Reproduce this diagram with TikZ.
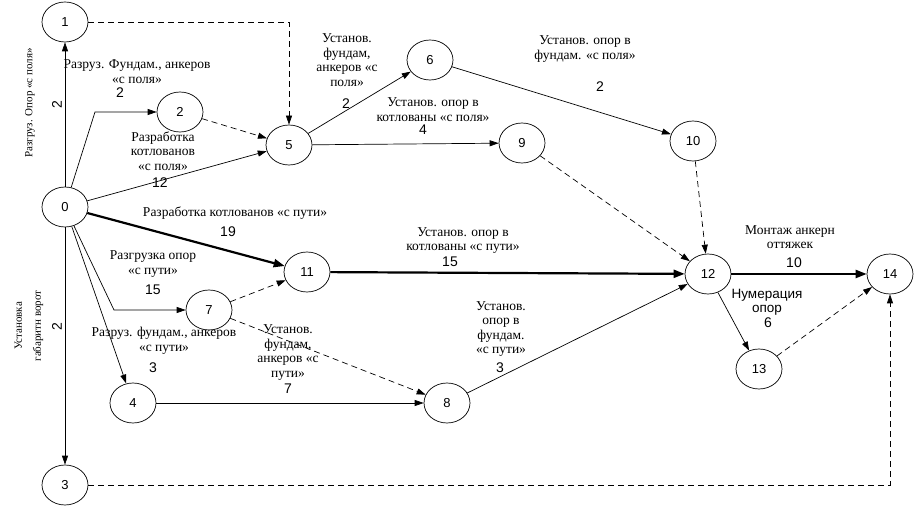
\documentclass[tikz,border=0pt]{standalone}
\usepackage{fontspec}
\setmainfont{Liberation Serif}
\newfontfamily\arial{Liberation Sans}
\usepackage{tikz}
\usetikzlibrary{shapes.geometric,arrows.meta}

\tikzset{
    ev/.style={draw, ellipse, line width=0.7pt, minimum width=46pt, minimum height=40pt, inner sep=0pt, font=\arial\fontsize{13}{13}\selectfont},
    job/.style={-{Triangle[length=9pt,width=6pt]}, line width=0.7pt},
    crit/.style={-{Triangle[length=11pt,width=8pt]}, line width=2.2pt},
    dum/.style={job, dash pattern=on 6pt off 4pt},
    txt/.style={align=center, inner sep=0pt, font=\fontsize{13.5}{14.5}\selectfont},
    num/.style={inner sep=0pt, font=\arial\fontsize{14}{14}\selectfont},
}

\begin{document}
\begin{tikzpicture}[x=1pt, y=-1pt]
    \useasboundingbox (0,0) rectangle (921,510);
    \node[ev] (n0) at (65,207) {0};
    \node[ev] (n1) at (65,22) {1};
    \node[ev] (n2) at (180,112) {2};
    \node[ev] (n3) at (65,485) {3};
    \node[ev] (n4) at (133,403) {4};
    \node[ev] (n5) at (289,145) {5};
    \node[ev] (n6) at (430,60) {6};
    \node[ev] (n7) at (209,310) {7};
    \node[ev] (n8) at (447,403) {8};
    \node[ev] (n9) at (522,143) {9};
    \node[ev] (n10) at (693,141) {10};
    \node[ev] (n11) at (307,272) {11};
    \node[ev] (n12) at (708,274) {12};
    \node[ev] (n13) at (759,369) {13};
    \node[ev] (n14) at (890,274) {14};
    \coordinate (b2) at (95,112);
    \coordinate (b7) at (114,310);

    \draw[job] (n0) -- (n1);
    \draw[job] (n0) -- (b2) -- (n2);
    \draw[job] (n0) -- (n5);
    \draw[dum] (n1) -| (n5);
    \draw[dum] (n2) -- (n5);
    \draw[job] (n5) -- (n6);
    \draw[job] (n5) -- (n9);
    \draw[job] (n6) -- (n10);
    \draw[dum] (n9) -- (n12);
    \draw[dum] (n10) -- (n12);
    \draw[crit] (n0) -- (n11);
    \draw[crit] (n11) -- (n12);
    \draw[job] (n0) -- (b7) -- (n7);
    \draw[job] (n0) -- (n4);
    \draw[job] (n0) -- (n3);
    \draw[dum] (n7) -- (n11);
    \draw[dum] (n7) -- (n8);
    \draw[job] (n4) -- (n8);
    \draw[job] (n8) -- (n12);
    \draw[crit] (n12) -- (n14);
    \draw[job] (n12) -- (n13);
    \draw[dum] (n13) -- (n14);
    \draw[dum] (n3) -| (n14);

    \node[txt, rotate=90, font=\fontsize{11}{13}\selectfont] (t01) at (30,103) {Разгруз. Опор «с поля»};
    \node[num, rotate=90] (d01) at (57,105) {2};
    \node[txt] (t02) at (137,71.5) {Разруз. Фундам., анкеров\\«с поля»};
    \node[num] (d02) at (120,93) {2};
    \node[txt] (t05) at (163,151) {Разработка\\котлованов\\«с поля»};
    \node[num] (d05) at (160,183) {12};
    \node[txt] (t56) at (347,60) {Установ.\\фундам,\\анкеров «с\\поля»};
    \node[num] (d56) at (346,104) {2};
    \node[txt] (t59) at (433,109.5) {Установ. опор в\\котлованы «с поля»};
    \node[num] (d59) at (423,130) {4};
    \node[txt] (t610) at (585,49) {Установ. опор в\\фундам. «с поля»};
    \node[num] (d610) at (600,87) {2};
    \node[txt] (t011) at (235,213) {Разработка котлованов «с пути»};
    \node[num] (d011) at (228,232) {19};
    \node[txt] (t1112) at (463,240.5) {Установ. опор в\\котлованы «с пути»};
    \node[num] (d1112) at (450,262) {15};
    \node[txt] (t07) at (153,264) {Разгрузка опор\\«с пути»};
    \node[num] (d07) at (153,290) {15};
    \node[txt] (t04) at (164,341) {Разруз. фундам., анкеров\\«с пути»};
    \node[num] (d04) at (153,368) {3};
    \node[txt] (t78) at (288,352.5) {Установ.\\фундам,\\анкеров «с\\пути»};
    \node[num] (d78) at (288,389) {7};
    \node[txt] (t812) at (501,329) {Установ.\\опор в\\фундам.\\«с пути»};
    \node[num] (d812) at (500,368) {3};
    \node[txt] (t1214) at (790,237) {Монтаж анкерн\\оттяжек};
    \node[num] (d1214) at (794,263) {10};
    \node[txt, font=\arial\fontsize{13.5}{14}\selectfont] (t1213) at (767,302) {Нумерация\\опор};
    \node[num] (d1213) at (768,323) {6};
    \node[txt, rotate=90, font=\fontsize{11}{19}\selectfont] (t03) at (29,326) {Установка\\габаритн ворот};
    \node[num, rotate=90] (d03) at (57,327) {2};
\end{tikzpicture}
\end{document}
